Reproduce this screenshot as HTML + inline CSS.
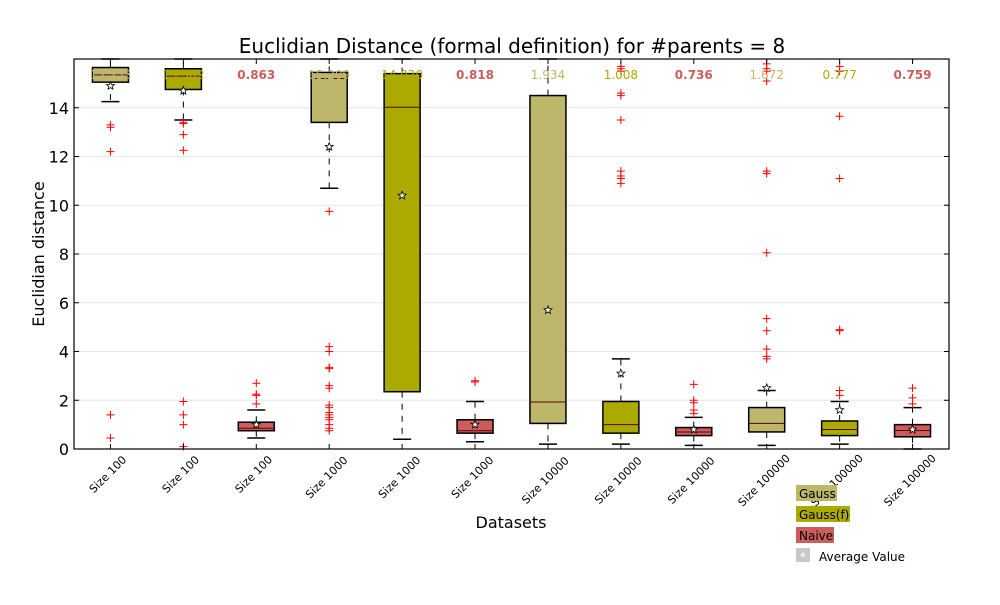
<!DOCTYPE html>
<html><head><meta charset="utf-8"><style>
body{margin:0;background:#fff;}
svg{font-family:"DejaVu Sans","Liberation Sans",sans-serif;}
</style></head><body>
<svg id="c" width="1000" height="600"></svg>
<script>
const categories=["Size 100","Size 100","Size 100","Size 1000","Size 1000","Size 1000","Size 10000","Size 10000","Size 10000","Size 100000","Size 100000","Size 100000"];
const methods=["Gauss","Gauss(f)","Naive","Gauss","Gauss(f)","Naive","Gauss","Gauss(f)","Naive","Gauss","Gauss(f)","Naive"];
const q1=[15.05,14.75,0.75,13.4,2.35,0.65,1.05,0.65,0.55,0.7,0.55,0.5];
const medians=[15.35,15.3,0.85,15.2,14.02,0.75,1.93,1.0,0.7,1.05,0.8,0.76];
const q3=[15.65,15.6,1.1,15.45,15.4,1.2,14.5,1.95,0.88,1.7,1.15,1.0];
const whiskerLow=[14.25,13.5,0.45,10.7,0.4,0.3,0.2,0.2,0.15,0.15,0.2,0.0];
const whiskerHigh=[16,16,1.6,16,16,1.95,16,3.7,1.3,2.4,1.95,1.7];
const means=[14.9,14.7,1.0,12.4,10.4,1.0,5.7,3.1,0.8,2.5,1.6,0.8];
const outliers=[[13.3,13.2,12.2,1.4,0.45],[13.4,13.35,12.9,12.25,1.95,1.4,1.0,0.1],[2.7,2.25,2.2,1.85],[9.75,4.2,4.0,3.35,3.3,2.6,2.5,1.8,1.7,1.5,1.4,1.3,1.2,1.0,0.85,0.75],[],[2.8,2.75],[],[15.7,15.6,15.5,14.6,14.5,13.5,11.4,11.2,11.1,10.9],[2.65,2.0,1.9,1.6,1.45],[15.8,15.6,15.5,15.1,11.4,11.3,8.05,5.35,4.85,4.1,3.8,3.7],[15.7,15.5,13.65,11.1,4.9,4.85,2.4,2.2],[2.5,2.1,1.85]];
const topLabels=["15.353","15.302","0.863","15.209","14.020","0.818","1.934","1.008","0.736","1.672","0.777","0.759"];
const yTicks=[0,2,4,6,8,10,12,14];
const colors={"Gauss":"#bdb76b","Gauss(f)":"#aaaa00","Naive":"#cd5c5c"};
const L=74,R=949,T=59,B=449,YMAX=16;
const y=v=>B-(v/YMAX)*(B-T);
const x=i=>L+(R-L)/categories.length*(i+0.5);
const NS="http://www.w3.org/2000/svg";
const svg=document.getElementById('c');
function el(t,a,txt){const e=document.createElementNS(NS,t);for(const k in a)e.setAttribute(k,a[k]);if(txt!==undefined)e.textContent=txt;svg.appendChild(e);return e;}
yTicks.forEach(v=>{
 const g=el('line',{x1:L,x2:R,y1:y(v),y2:y(v),stroke:'#e6e6e6','stroke-width':1});
 
 
 el('line',{x1:L,x2:L+5,y1:y(v),y2:y(v),stroke:'#000'});
 el('line',{x1:R-5,x2:R,y1:y(v),y2:y(v),stroke:'#000'});
 const t=el('text',{x:L-5,y:y(v)+6,'text-anchor':'end','font-size':16},String(v));
 
 
});
function star(cx,cy){const p=[];for(let k=0;k<10;k++){const r=k%2?1.8:4.2;const a=-Math.PI/2+k*Math.PI/5;p.push((cx+r*Math.cos(a)).toFixed(1)+','+(cy+r*Math.sin(a)).toFixed(1));}const s=el('polygon',{points:p.join(' '),fill:'#fff',stroke:'#000','stroke-width':0.8});return s;}
categories.forEach((c,i)=>{
 const cx=x(i),w=36,col=colors[methods[i]];
 el('line',{x1:cx,x2:cx,y1:y(q3[i]),y2:y(whiskerHigh[i]),stroke:'#000','stroke-dasharray':'6,6'});
 el('line',{x1:cx,x2:cx,y1:y(q1[i]),y2:y(whiskerLow[i]),stroke:'#000','stroke-dasharray':'6,6'});
 el('line',{x1:cx-9,x2:cx+9,y1:y(whiskerHigh[i]),y2:y(whiskerHigh[i]),stroke:'#000','stroke-width':1.5});
 el('line',{x1:cx-9,x2:cx+9,y1:y(whiskerLow[i]),y2:y(whiskerLow[i]),stroke:'#000','stroke-width':1.5});
 const b=el('rect',{x:cx-w/2,y:y(q3[i]),width:w,height:y(q1[i])-y(q3[i]),fill:col,stroke:'#000','stroke-width':1.5});
 
 
 el('line',{x1:cx-w/2,x2:cx+w/2,y1:y(medians[i]),y2:y(medians[i]),stroke:'#5a0000','stroke-width':1});
 outliers[i].forEach(v=>{
  const o=el('path',{d:`M${cx-4},${y(v)}h8M${cx},${y(v)-4}v8`,stroke:'#f00','stroke-width':1});
  
  
 });
 const m=star(cx,y(means[i]));
 
 
 const tl=el('text',{x:cx,y:79,'text-anchor':'middle','font-size':12,fill:col,'font-weight':methods[i]==='Naive'?'bold':'normal'},topLabels[i]);
 
 
 el('line',{x1:cx,x2:cx,y1:B,y2:B-5,stroke:'#000'});
 el('line',{x1:cx,x2:cx,y1:T,y2:T+5,stroke:'#000'});
 const lx=cx,ly=B+(c.length>9?34:c.length>8?31:28);
 const xl=el('text',{x:lx,y:ly,'text-anchor':'middle','font-size':11,transform:`rotate(-45 ${lx} ${ly})`},c);
 
 
});
const fr=el('rect',{x:L,y:T,width:R-L,height:B-T,fill:'none',stroke:'#000','stroke-width':1.2});


const ti=el('text',{x:512,y:53,'text-anchor':'middle','font-size':20},'Euclidian Distance (formal definition) for #parents = 8');


const xt=el('text',{x:511,y:528,'text-anchor':'middle','font-size':16},'Datasets');


const yt=el('text',{x:44,y:254,'text-anchor':'middle','font-size':16,transform:'rotate(-90 44 254)'},'Euclidian distance');


const leg=[["Gauss","#bdb76b",485,41],["Gauss(f)","#aaaa00",506,54],["Naive","#cd5c5c",527,38]];
leg.forEach(([n,c,yy,w])=>{
 const r=el('rect',{x:796,y:yy,width:w,height:16,fill:c});
 
 
 el('text',{x:799,y:yy+13,'font-size':12},n);
});
const ar=el('rect',{x:796,y:548,width:14,height:14,fill:'#c8c8c8'});


el('text',{x:803,y:561,'text-anchor':'middle','font-size':12,fill:'#fff'},'*');
el('text',{x:819,y:561,'font-size':12},'Average Value');
</script>
</body></html>
